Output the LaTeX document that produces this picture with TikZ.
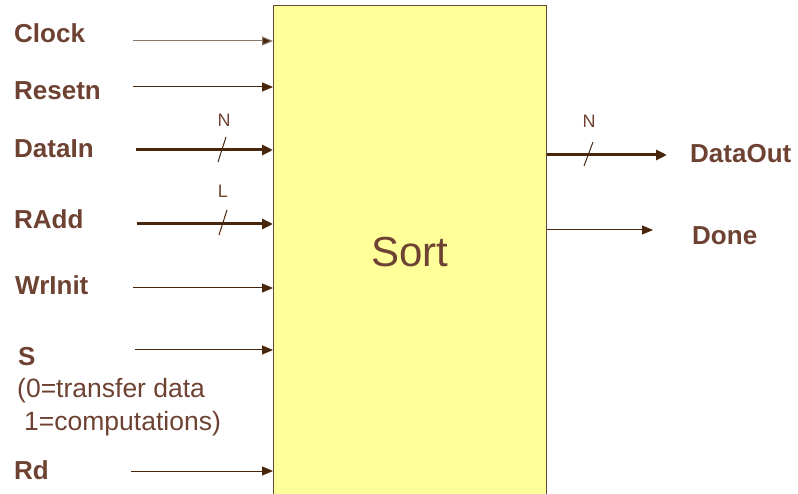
\documentclass[tikz,border=0pt]{standalone}
\usepackage{fontspec}
\setmainfont{Liberation Sans}
\usetikzlibrary{arrows.meta}
\definecolor{txtbrown}{RGB}{110,66,50}
\definecolor{linebrown}{RGB}{72,38,12}
\definecolor{boxfill}{RGB}{255,255,153}
\definecolor{boxedge}{RGB}{95,75,55}
\definecolor{clkgray}{RGB}{140,120,105}
\tikzset{
  sig/.style={font=\fontsize{26}{30}\selectfont\bfseries, text=txtbrown, inner sep=0pt, anchor=base west},
  note/.style={font=\fontsize{26.5}{30}\selectfont, text=txtbrown, inner sep=0pt, anchor=base west},
  width/.style={font=\fontsize{18}{20}\selectfont, text=txtbrown, inner sep=0pt, anchor=base},
  thinarrow/.style={draw=linebrown, line width=1pt, -{Triangle[length=11pt,width=9pt]}},
  thickarrow/.style={draw=linebrown, line width=3pt, -{Triangle[length=11pt,width=10pt]}},
  slash/.style={draw=linebrown, line width=1pt},
}
\begin{document}
\begin{tikzpicture}[x=1pt,y=-1pt]
\useasboundingbox (0,0) rectangle (798,494);
% main box
\node[draw=boxedge, line width=1pt, fill=boxfill, minimum width=273pt, minimum height=488pt, anchor=north west, inner sep=0pt] (box) at (273,5.5) {};
\node[font=\fontsize{42}{48}\selectfont, text=txtbrown, anchor=base] (sort) at (410,267) {Sort};
% left labels
\node[sig] (clk) at (14,43) {Clock};
\node[sig] (rst) at (14,100) {Resetn};
\node[sig] (din) at (14,158) {DataIn};
\node[sig] (radd) at (14,229) {RAdd};
\node[sig] (wr) at (15,295) {WrInit};
\node[sig] (s) at (18,365) {S};
\node[note] (s0) at (17,397) {(0=transfer data};
\node[note] (s1) at (24,430) {1=computations)};
\node[sig] (rd) at (14,479) {Rd};
% right labels
\node[sig] (dout) at (690,163) {DataOut};
\node[sig] (done) at (692,245) {Done};
% arrow start coordinates
\coordinate (cclk) at (133,41);
\coordinate (crst) at (133,87);
\coordinate (cdin) at (136,150);
\coordinate (cradd) at (137,224);
\coordinate (cwr) at (133,288);
\coordinate (cs) at (135,350);
\coordinate (crd) at (131,471);
\coordinate (edout) at (667,155);
\coordinate (edone) at (653,230);
% input arrows
\draw[thinarrow, draw=clkgray, -{Triangle[length=11pt,width=9pt,fill=linebrown]}] (cclk) -- (cclk -| box.west);
\draw[thinarrow] (crst) -- (crst -| box.west);
\draw[thickarrow] (cdin) -- (cdin -| box.west);
\draw[thickarrow] (cradd) -- (cradd -| box.west);
\draw[thinarrow] (cwr) -- (cwr -| box.west);
\draw[thinarrow] (cs) -- (cs -| box.west);
\draw[thinarrow] (crd) -- (crd -| box.west);
% output arrows
\draw[thickarrow] (edout -| box.east) -- (edout);
\draw[thinarrow] (edone -| box.east) -- (edone);
% bus width slashes and labels
\draw[slash] (218,162) -- (226,137);
\node[width] (nin) at (224,127) {N};
\draw[slash] (219,235) -- (227,210);
\node[width] (lin) at (223,198) {L};
\draw[slash] (584,166) -- (593,142);
\node[width] (nout) at (589,128) {N};
\end{tikzpicture}
\end{document}
